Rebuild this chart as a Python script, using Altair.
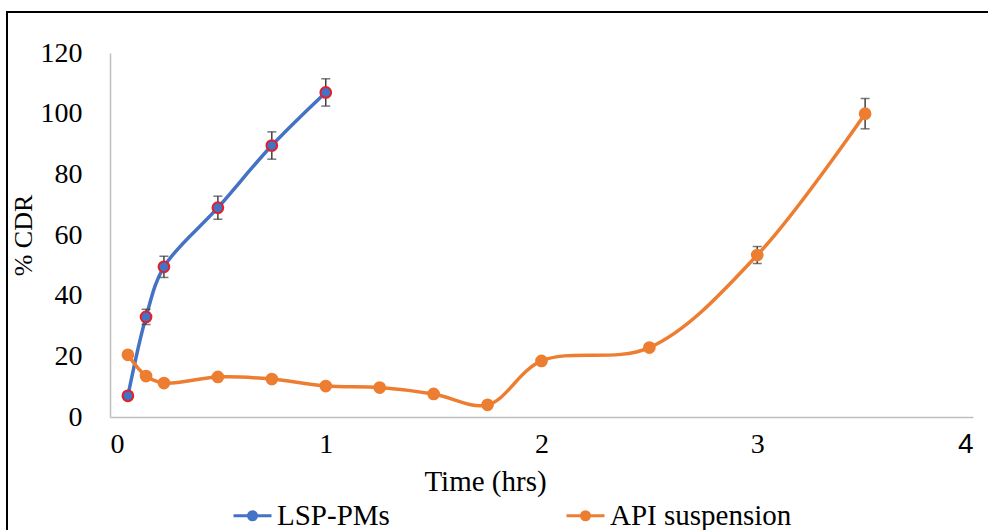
import altair as alt
import pandas as pd

# ---- data ----
series_names = ["LSP-PMs", "API suspension"]
series_colors = ["#4472C4", "#ED7D31"]

lsp_time = [0.083, 0.167, 0.25, 0.5, 0.75, 1.0]
lsp_cdr = [7.0, 33.0, 49.5, 69.0, 89.5, 107.0]
lsp_sd = [1.2, 2.5, 3.5, 3.8, 4.5, 4.5]

api_time = [0.083, 0.167, 0.25, 0.5, 0.75, 1.0, 1.25, 1.5, 1.75, 2.0, 2.5, 3.0, 3.5]
api_cdr = [20.5, 13.5, 11.2, 13.2, 12.5, 10.2, 9.7, 7.6, 4.0, 18.5, 22.9, 53.4, 100.0]
api_sd = [0, 0, 0, 0, 0, 0, 0, 0, 0, 0, 1.0, 2.8, 5.0]

x_ticks = [0, 1, 2, 3, 4]
y_ticks = [0, 20, 40, 60, 80, 100, 120]

lsp = pd.DataFrame({"time": lsp_time, "cdr": lsp_cdr, "sd": lsp_sd, "series": series_names[0]})
api = pd.DataFrame({"time": api_time, "cdr": api_cdr, "sd": api_sd, "series": series_names[1]})
df = pd.concat([lsp, api], ignore_index=True)
df["lo"] = df["cdr"] - df["sd"]
df["hi"] = df["cdr"] + df["sd"]
err = df[df["sd"] > 0]

FONT = "Liberation Serif"

x_axis = alt.Axis(
    values=x_ticks, title="Time (hrs)", format="d",
    labelFontSize=28, titleFontSize=29, labelPadding=13, titlePadding=9,
    titleX=375,
    labelFont={"condition": {"test": "datum.value == 4", "value": "Liberation Sans"}, "value": FONT},
)
y_axis = alt.Axis(
    values=y_ticks, title="% CDR", format="d",
    labelFontSize=28, titleFontSize=26, labelPadding=28, titlePadding=4,
)
x_scale = alt.Scale(domain=[0, 4], nice=False)
y_scale = alt.Scale(domain=[0, 120], nice=False)


def X(field):
    return alt.X(field, scale=x_scale, axis=x_axis, title="Time (hrs)")


def Y(field):
    return alt.Y(field, scale=y_scale, axis=y_axis, title="% CDR")


sym_path = ("M-1,0L1,0M-0.21,0A0.21,0.21,0,1,1,0.21,0"
            "A0.21,0.21,0,1,1,-0.21,0Z")

legend = alt.Legend(
    title=None, orient="none", legendX=122, legendY=442, direction="horizontal",
    symbolType=sym_path, symbolSize=1444, symbolStrokeWidth=3, symbolOpacity=1,
    labelFont=FONT, labelFontSize=29, labelColor="black", labelOffset=4,
    columnPadding=170, labelLimit=400,
)
color = alt.Color("series:N", scale=alt.Scale(domain=series_names, range=series_colors), legend=legend)

frame = alt.Chart(alt.Data(values=[{"a": 1}])).mark_rect(
    fill="transparent", stroke="black", strokeWidth=2
).encode(x=alt.value(-103), x2=alt.value(900), y=alt.value(-41), y2=alt.value(500))

lines = alt.Chart(df).mark_line(interpolate="catmull-rom", strokeWidth=3.5).encode(
    x=X("time:Q"), y=Y("cdr:Q"), color=color
)

rules = alt.Chart(err).mark_rule(color="#404040", strokeWidth=1.5).encode(
    x=X("time:Q"), y=Y("lo:Q"), y2="hi:Q"
)
caps_lo = alt.Chart(err).mark_tick(color="#404040", thickness=1.5, size=9, orient="horizontal").encode(
    x=X("time:Q"), y=Y("lo:Q")
)
caps_hi = alt.Chart(err).mark_tick(color="#404040", thickness=1.5, size=9, orient="horizontal").encode(
    x=X("time:Q"), y=Y("hi:Q")
)

points = alt.Chart(df).mark_point(filled=True, size=115, strokeWidth=2, opacity=1).encode(
    x=X("time:Q"), y=Y("cdr:Q"), color=color,
    stroke=alt.condition(alt.datum.series == series_names[0], alt.value("#E0202A"), alt.value("#ED7D31")),
)

chart = alt.layer(frame, lines, rules, caps_lo, caps_hi, points).properties(
    width=863, height=364,
    autosize=alt.AutoSizeParams(type="none"),
    padding={"left": 110, "top": 53, "right": 15, "bottom": 113},
).configure(font=FONT).configure_axis(
    labelFont=FONT, titleFont=FONT, labelColor="black", titleColor="black",
    titleFontWeight="normal", domainColor="#BFBFBF", domainWidth=1.5,
    grid=False, ticks=False, tickSize=0,
).configure_view(stroke=None).configure_legend(labelFont=FONT)

chart.save("out.html", embed_options={"renderer": "svg", "actions": False})
